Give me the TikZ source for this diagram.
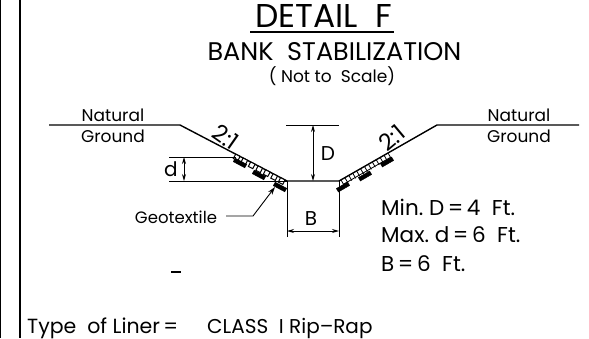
\documentclass[tikz,border=0pt]{standalone}
\usepackage{fontspec}
\setmainfont{Poppins}
\usetikzlibrary{arrows.meta,calc}
\tikzset{
	label/.style={inner sep=0pt, font=\fontsize{17}{17}\selectfont},
	note/.style={inner sep=0pt, anchor=west, font=\fontsize{21.5}{21.5}\selectfont},
	dimline/.style={line width=0.9pt},
	dimarrow/.style={line width=0.9pt, {Stealth[length=7pt,width=4pt]}-{Stealth[length=7pt,width=4pt]}},
	ground/.style={line width=1.4pt},
	pad/.style={draw, fill=black, line width=0.4pt, minimum width=13pt, minimum height=4pt, inner sep=0pt}
}

\begin{document}
\begin{tikzpicture}[x=1pt,y=-1pt]
	\useasboundingbox (0,0) rectangle (589,338);
	% sheet border
	\coordinate (borderA) at (0.5,0);
	\coordinate (borderB) at (0.5,338);
	\coordinate (borderC) at (20,0);
	\coordinate (borderD) at (20,338);
	\draw[line width=1pt] (borderA)--(borderB);
	\draw[line width=1.4pt] (borderC)--(borderD);

	% heading
	\node[inner sep=0pt, font=\fontsize{33}{33}\selectfont] (title) at (323.5,16) {DETAIL\ \ F};
	\coordinate (ruleL) at (250,32);
	\coordinate (ruleR) at (394,32);
	\draw[line width=1.4pt] (ruleL)--(ruleR);
	\node[inner sep=0pt, font=\fontsize{25.5}{25.5}\selectfont] (subtitle) at (334.5,52) {BANK\ \ STABILIZATION};
	\node[inner sep=0pt, font=\fontsize{17}{17}\selectfont] (scale) at (332,76) {( Not to\ \ Scale)};

	% ground and channel
	\coordinate (leftEnd) at (49,125);
	\coordinate (leftTop) at (180,125);
	\coordinate (leftToe) at (287,181);
	\coordinate (rightToe) at (339,181);
	\coordinate (rightTop) at (437,125);
	\coordinate (rightEnd) at (579,125);
	\coordinate (leftBase) at (287,237);
	\coordinate (rightBase) at (339,237);
	\draw[ground] (leftEnd)--(leftTop)--(leftToe)--(rightToe)--(rightTop)--(rightEnd);
	\draw[dimline] (leftBase)--(leftToe);
	\draw[dimline] (rightBase)--(rightToe);

	% left rip-rap
	\foreach \t in {0.52,0.59,0.66,0.73,0.80,0.87,0.94}
		\draw[line width=1pt, fill=white] ($(leftTop)!\t!(leftToe)$) -- ++(117:5) -- ++(27:5) -- ++(-63:5) -- cycle;
	\node[pad, rotate=-28] (padA) at (240,163) {};
	\node[pad, rotate=-28] (padB) at (259,175) {};
	\node[pad, rotate=-28] (padC) at (280,187) {};

	% right rip-rap
	\foreach \t in {0.02,0.06,...,0.50}
		\draw[line width=0.8pt] ($(rightToe)!\t!(rightTop)$) -- ++(60:6);
	\draw[line width=0.8pt] ($(rightToe)!0.02!(rightTop)+(60:5)$) -- ($(rightToe)!0.5!(rightTop)+(60:5)$);
	\node[pad, rotate=30] (padD) at (343,187) {};
	\node[pad, rotate=30] (padE) at (365,176) {};
	\node[pad, rotate=30] (padF) at (387,162) {};

	% dimensions
	\coordinate (dTopL) at (169,157);
	\coordinate (dTopR) at (236,157);
	\coordinate (dLowL) at (169,181);
	\coordinate (dArrowA) at (184,157);
	\coordinate (dArrowB) at (184,181);
	\draw[dimline] (dTopL)--(dTopR);
	\draw[dimline] (dLowL)--(leftToe);
	\draw[dimarrow] (dArrowA)--(dArrowB);
	\node[label, font=\fontsize{20}{20}\selectfont] (dLabel) at (171,169) {d};

	\coordinate (DTopL) at (286,125);
	\coordinate (DTopR) at (339,125);
	\coordinate (DArrowA) at (313,125);
	\coordinate (DArrowB) at (313,181);
	\draw[dimline] (DTopL)--(DTopR);
	\draw[dimarrow] (DArrowA)--(DArrowB);
	\node[label, font=\fontsize{20}{20}\selectfont] (DLabel) at (328,154) {D};

	\coordinate (BArrowA) at (287,231);
	\coordinate (BArrowB) at (339,231);
	\draw[dimarrow] (BArrowA)--(BArrowB);
	\node[label, font=\fontsize{20}{20}\selectfont] (BLabel) at (311,219) {B};

	% slope labels
	\node[label, font=\fontsize{23}{23}\selectfont, rotate=-35] (slopeL) at (226,137) {2:1};
	\node[label, font=\fontsize{23}{23}\selectfont, rotate=40] (slopeR) at (392,138) {2:1};

	% ground labels
	\node[label] (naturalL) at (113,115) {Natural};
	\node[label] (groundL) at (113,136) {Ground};
	\node[label] (naturalR) at (519,115) {Natural};
	\node[label] (groundR) at (519,136) {Ground};

	% geotextile
	\node[label, font=\fontsize{16.5}{16.5}\selectfont] (geotextile) at (176,217) {Geotextile};
	\coordinate (leaderA) at (226,216);
	\coordinate (leaderB) at (253,216);
	\coordinate (leaderC) at (275,187);
	\draw[line width=0.9pt, -{Stealth[length=8pt,width=5pt]}] (leaderA)--(leaderB)--(leaderC);

	% notes
	\node[note] (minD) at (381,207) {Min.\ D\,=\,4\ \ Ft.};
	\node[note] (maxD) at (381,235) {Max.\ d\,=\,6\ \ Ft.};
	\node[note] (valB) at (381,264) {B\,=\,6\ \ Ft.};

	\coordinate (dashA) at (171,272);
	\coordinate (dashB) at (181,272);
	\draw[line width=1.4pt] (dashA)--(dashB);

	\node[note, anchor=base west, font=\fontsize{20.5}{20.5}\selectfont] (liner) at (27,333) {Type\ \ of Liner\,=};
	\node[note, anchor=base west, font=\fontsize{20}{20}\selectfont] (class) at (207,333) {CLASS\ \ I Rip--Rap};
\end{tikzpicture}
\end{document}
